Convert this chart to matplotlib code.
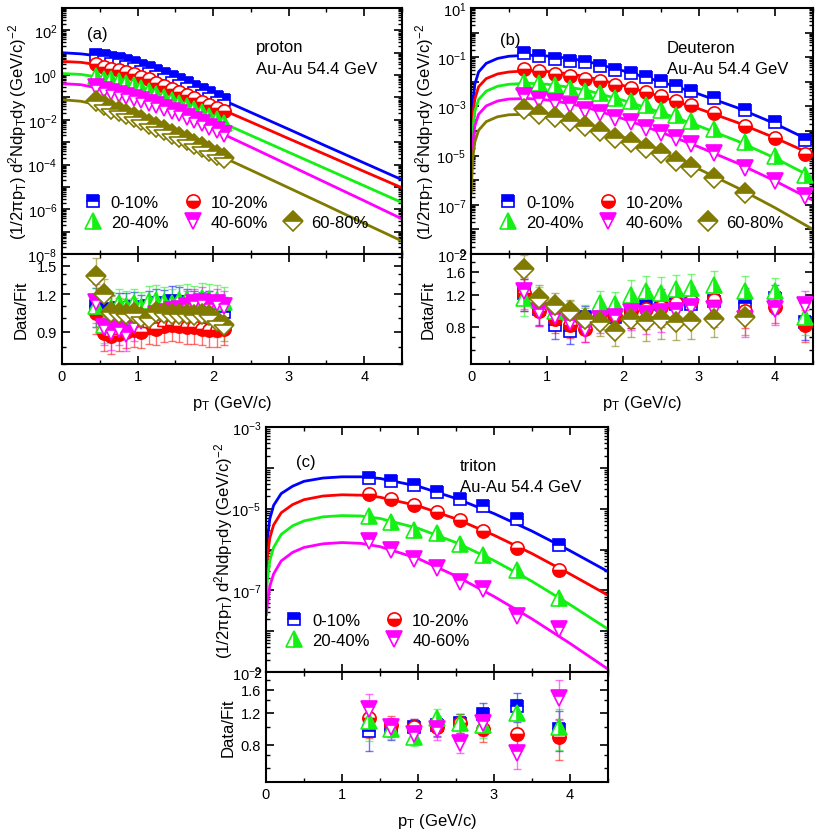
import numpy as np
import matplotlib
matplotlib.use("Agg")
import matplotlib.pyplot as plt
from matplotlib.ticker import LogLocator, FixedLocator, FuncFormatter, NullFormatter, MultipleLocator, FixedFormatter
from matplotlib.lines import Line2D

plt.rcParams['font.family'] = ['Liberation Sans', 'DejaVu Sans']
plt.rcParams['mathtext.fontset'] = 'custom'
plt.rcParams['mathtext.rm'] = 'Liberation Sans'
plt.rcParams['mathtext.it'] = 'Liberation Sans:italic'
plt.rcParams['mathtext.default'] = 'regular'

# ---------------- data ----------------
centralities = ['0-10%', '10-20%', '20-40%', '40-60%', '60-80%']
colors = ['#0000ff', '#ff0000', '#14f014', '#ff00ff', '#807a00']
markers = ['s', 'o', '^', 'v', 'D']
fills = ['top', 'bottom', 'right', 'top', 'top']
msizes = [9, 9.5, 11, 11, 10]

# (a) proton
pt_a = [0.45, 0.55, 0.65, 0.75, 0.85, 0.95, 1.05, 1.15, 1.25, 1.35,
        1.45, 1.55, 1.65, 1.75, 1.85, 1.95, 2.05, 2.15]
spec_a = [
    [8.15, 6.97, 5.85, 5.05, 4.12, 3.40, 2.59, 1.98, 1.49, 1.10, 0.836, 0.604, 0.430, 0.303, 0.215, 0.156, 0.108, 0.0752],
    [3.10, 2.31, 1.91, 1.64, 1.37, 1.13, 0.859, 0.643, 0.461, 0.341, 0.25, 0.178, 0.126, 0.0908, 0.0646, 0.0458, 0.0328, 0.0237],
    [0.927, 0.689, 0.650, 0.561, 0.438, 0.354, 0.262, 0.201, 0.148, 0.106, 0.0771, 0.0574, 0.0415, 0.0293, 0.0216, 0.0153, 0.0109, 0.00755],
    [0.307, 0.213, 0.171, 0.146, 0.111, 0.0951, 0.0757, 0.0581, 0.045, 0.0344, 0.0261, 0.0192, 0.0139, 0.00998, 0.0071, 0.00486, 0.00347, 0.00237],
    [0.067, 0.0471, 0.0318, 0.0244, 0.018, 0.0135, 0.00953, 0.00668, 0.00497, 0.00348, 0.00244, 0.00172, 0.00121, 8.4e-4, 5.94e-4, 4.13e-4, 2.77e-4, 1.88e-4],
]
ratio_a = [
    [1.10, 1.07, 1.06, 1.08, 1.08, 1.09, 1.07, 1.10, 1.12, 1.11, 1.14, 1.13, 1.12, 1.10, 1.09, 1.10, 1.07, 1.05],
    [1.04, 0.89, 0.87, 0.88, 0.90, 0.91, 0.90, 0.93, 0.92, 0.94, 0.95, 0.94, 0.93, 0.93, 0.92, 0.91, 0.91, 0.92],
    [1.10, 0.95, 1.08, 1.12, 1.10, 1.12, 1.09, 1.14, 1.15, 1.13, 1.12, 1.15, 1.16, 1.14, 1.17, 1.16, 1.15, 1.13],
    [1.13, 0.93, 0.90, 0.92, 0.88, 0.95, 0.98, 1.00, 1.03, 1.05, 1.06, 1.07, 1.10, 1.12, 1.13, 1.10, 1.12, 1.10],
    [1.38, 1.20, 1.05, 1.04, 1.03, 1.04, 1.01, 1.00, 1.05, 1.04, 1.03, 1.03, 1.03, 1.02, 1.03, 1.02, 0.98, 0.95],
]
rerr_a = [0.15, 0.13, 0.13, 0.12, 0.12, 0.12, 0.12, 0.12, 0.12, 0.12, 0.12, 0.12, 0.12, 0.12, 0.12, 0.12, 0.12, 0.12]
fitpt_a = [0, 0.25, 0.5, 0.75, 1.0, 1.5, 2.0, 2.5, 3.0, 3.5, 4.0, 4.5]
fitlog_a = [
    [1.0, 0.95, 0.85, 0.67, 0.45, -0.2, -0.92, -1.67, -2.42, -3.18, -3.93, -4.68],
    [0.61, 0.57, 0.45, 0.27, 0.05, -0.65, -1.37, -2.1, -2.84, -3.57, -4.31, -5.04],
    [0.07, 0.03, -0.1, -0.3, -0.55, -1.23, -1.95, -2.7, -3.45, -4.2, -4.95, -5.7],
    [-0.38, -0.43, -0.6, -0.8, -1.05, -1.67, -2.43, -3.22, -4.02, -4.82, -5.62, -6.43],
    [-1.1, -1.17, -1.35, -1.63, -1.95, -2.7, -3.47, -4.25, -5.04, -5.83, -6.63, -7.42],
]

# (b) deuteron
pt_b = [0.7, 0.9, 1.1, 1.3, 1.5, 1.7, 1.9, 2.1, 2.3, 2.5, 2.7, 2.9, 3.2, 3.6, 4.0, 4.4]
spec_b = [
    [0.145, 0.115, 0.085, 0.068, 0.063, 0.045, 0.030, 0.0224, 0.0162, 0.0107, 0.0068, 0.0043, 0.0021, 7.1e-4, 2.3e-4, 4.3e-5],
    [0.034, 0.0263, 0.0214, 0.0170, 0.0129, 0.011, 0.0076, 0.0056, 0.0038, 0.00257, 0.0017, 0.0011, 5.4e-4, 1.6e-4, 5.4e-5, 1.2e-5],
    [9.8e-3, 9.3e-3, 7.1e-3, 5.6e-3, 4.3e-3, 3.4e-3, 2.2e-3, 1.7e-3, 1.1e-3, 6.9e-4, 4.4e-4, 2.6e-4, 1.23e-4, 3.6e-5, 1.0e-5, 1.6e-6],
    [2.6e-3, 1.86e-3, 1.48e-3, 1.1e-3, 7.4e-4, 5.4e-4, 3.5e-4, 2.3e-4, 1.38e-4, 8.5e-5, 5.0e-5, 3.0e-5, 1.23e-5, 3.1e-6, 9.3e-7, 2.3e-7],
    [7.9e-4, 4.9e-4, 3.6e-4, 2.5e-4, 1.6e-4, 9.8e-5, 5.4e-5, 3.7e-5, 2.1e-5, 1.23e-5, 6.3e-6, 3.3e-6, 1.23e-6, 3.1e-7],
]
ratio_b = [
    [1.22, 1.0, 0.82, 0.76, 0.9, 0.92, 0.9, 0.98, 1.07, 1.06, 1.06, 1.06, 1.1, 1.08, 1.15, 0.85],
    [1.22, 0.98, 0.88, 0.82, 0.78, 0.93, 0.92, 0.98, 1.0, 1.02, 1.08, 1.1, 1.12, 0.98, 1.02, 0.82],
    [1.15, 1.12, 0.98, 0.96, 0.92, 1.08, 1.06, 1.2, 1.25, 1.23, 1.28, 1.3, 1.35, 1.26, 1.25, 0.9],
    [1.25, 0.98, 0.92, 0.85, 0.78, 0.88, 0.9, 0.96, 0.94, 0.96, 0.98, 1.02, 1.0, 0.88, 1.0, 1.05],
    [1.65, 1.15, 1.05, 0.98, 0.88, 0.85, 0.76, 0.88, 0.86, 0.88, 0.85, 0.86, 0.88, 0.9],
]
rerr_b = [0.2, 0.18, 0.16, 0.15, 0.15, 0.16, 0.17, 0.2, 0.22, 0.22, 0.2, 0.2, 0.2, 0.2, 0.18, 0.2]
fitpt_b = [0.004, 0.02, 0.05, 0.1, 0.2, 0.35, 0.5, 0.75, 1.0, 1.25, 1.5, 2.0, 2.5, 3.0, 3.5, 4.0, 4.5]
fitlog_b = [
    [-4.4, -2.9, -2.1, -1.6, -1.25, -1.05, -0.96, -0.92, -0.95, -1.03, -1.15, -1.55, -2.0, -2.5, -3.05, -3.7, -4.45],
    [-5.0, -3.5, -2.7, -2.2, -1.87, -1.68, -1.6, -1.55, -1.58, -1.66, -1.78, -2.15, -2.6, -3.1, -3.65, -4.28, -4.97],
    [-5.5, -4.0, -3.2, -2.72, -2.38, -2.18, -2.1, -2.06, -2.1, -2.2, -2.33, -2.75, -3.25, -3.8, -4.4, -5.1, -5.9],
    [-6.0, -4.6, -3.8, -3.32, -2.98, -2.78, -2.7, -2.68, -2.74, -2.86, -3.02, -3.5, -4.05, -4.65, -5.3, -6.03, -6.82],
    [-6.5, -5.2, -4.45, -3.97, -3.62, -3.42, -3.34, -3.32, -3.4, -3.55, -3.73, -4.25, -4.85, -5.55, -6.3, -7.12, -8.0],
]

# (c) triton
pt_c = [1.35, 1.65, 1.95, 2.25, 2.55, 2.85, 3.3, 3.85]
spec_c = [
    [5.52e-5, 4.68e-5, 3.71e-5, 2.56e-5, 1.71e-5, 1.16e-5, 5.45e-6, 1.27e-6],
    [2.34e-5, 1.68e-5, 1.23e-5, 8.1e-6, 5.4e-6, 2.86e-6, 1.11e-6, 3.1e-7],
    [6.75e-6, 4.78e-6, 3.08e-6, 2.48e-6, 1.4e-6, 7.4e-7, 3.18e-7, 6.6e-8],
    [1.64e-6, 9.6e-7, 5.93e-7, 3.56e-7, 1.64e-7, 1.05e-7, 2.38e-8, 1.1e-8],
]
ratio_c = [
    [0.95, 0.97, 1.0, 1.02, 1.05, 1.18, 1.3, 0.98],
    [1.12, 1.02, 1.0, 1.0, 1.05, 0.97, 0.92, 0.88],
    [1.08, 0.98, 0.88, 1.12, 1.05, 1.02, 1.2, 1.0],
    [1.25, 1.0, 0.92, 0.97, 0.82, 1.05, 0.72, 1.45],
]
rerr_c = [0.22, 0.12, 0.1, 0.12, 0.12, 0.15, 0.18, 0.25]
fitpt_c = [0.004, 0.02, 0.05, 0.1, 0.2, 0.35, 0.5, 0.75, 1.0, 1.25, 1.5, 2.0, 2.5, 3.0, 3.5, 4.0, 4.5]
fitlog_c = [
    [-6.2, -5.7, -5.25, -4.92, -4.63, -4.45, -4.33, -4.25, -4.22, -4.22, -4.26, -4.45, -4.75, -5.12, -5.55, -6.03, -6.54],
    [-6.6, -6.15, -5.72, -5.4, -5.1, -4.9, -4.78, -4.69, -4.66, -4.67, -4.72, -4.93, -5.25, -5.65, -6.1, -6.6, -7.12],
    [-7.1, -6.7, -6.27, -5.95, -5.63, -5.42, -5.3, -5.2, -5.17, -5.18, -5.24, -5.48, -5.83, -6.27, -6.78, -7.35, -7.95],
    [-7.6, -7.3, -6.9, -6.6, -6.28, -6.07, -5.95, -5.86, -5.83, -5.85, -5.93, -6.22, -6.65, -7.15, -7.7, -8.3, -8.93],
]

# ---------------- figure ----------------
W, H = 817, 837
fig = plt.figure(figsize=(W / 100, H / 100), dpi=100)


def rect(l, t, r, b):
    return [l / W, 1 - b / H, (r - l) / W, (b - t) / H]


def style_axes(ax):
    ax.tick_params(which='both', direction='in', top=True, right=True, labelsize=10.5, width=1.2)
    ax.tick_params(which='major', length=6)
    ax.tick_params(which='minor', length=3, width=1)
    for s in ax.spines.values():
        s.set_linewidth(1.5)


def decade_fmt(parity):
    def f(v, p):
        e = int(round(np.log10(v)))
        return '$10^{%d}$' % e if e % 2 == parity else ''
    return FuncFormatter(f)


def panel(top_rect, rat_rect, pt, spec, ratio, rerr, fitpt, fitlog, ylim, parity,
          rlim, rticks, rminor, label, name, text_xy, legend_xy, spec_err, ylab_x):
    n = len(spec)
    axt = fig.add_axes(rect(*top_rect))
    axr = fig.add_axes(rect(*rat_rect))
    handles = []
    for i in range(n):
        c = colors[i]
        axt.plot(fitpt, 10 ** np.array(fitlog[i]), color=c, lw=2, zorder=2)
        m = len(spec[i])
        y = np.array(spec[i])
        axt.errorbar(pt[:m], y, yerr=y * spec_err, fmt='none', ecolor=c, alpha=0.5,
                     elinewidth=1, capsize=0, zorder=3)
        h, = axt.plot(pt[:m], y, ls='none', marker=markers[i], fillstyle=fills[i],
                      ms=msizes[i], mfc=c, mfcalt='white', mec=c, mew=1.2, zorder=4)
        handles.append(h)
        r = np.array(ratio[i])
        axr.errorbar(pt[:m], r, yerr=np.array(rerr[:m]) * r, fmt='none', ecolor=c, alpha=0.55,
                     elinewidth=1, capsize=3, zorder=3)
        axr.plot(pt[:m], r, ls='none', marker=markers[i], fillstyle=fills[i],
                 ms=msizes[i], mfc=c, mfcalt='white', mec=c, mew=1.2, zorder=4)

    for ax in (axt, axr):
        ax.set_xlim(0, 4.5)
        ax.xaxis.set_major_locator(MultipleLocator(1))
        ax.xaxis.set_minor_locator(MultipleLocator(0.5))
        style_axes(ax)
    axt.set_yscale('log')
    axt.set_ylim(*ylim)
    axt.yaxis.set_major_locator(LogLocator(base=10, numticks=30))
    axt.yaxis.set_minor_locator(LogLocator(base=10, subs=np.arange(2, 10), numticks=30))
    axt.yaxis.set_major_formatter(decade_fmt(parity))
    axt.yaxis.set_minor_formatter(NullFormatter())
    axt.tick_params(labelbottom=False)

    axr.set_yscale('log')
    axr.set_ylim(*rlim)
    axr.yaxis.set_major_locator(FixedLocator(rticks))
    axr.yaxis.set_major_formatter(FixedFormatter(['%g' % t for t in rticks]))
    axr.yaxis.set_minor_locator(FixedLocator(rminor))
    axr.yaxis.set_minor_formatter(NullFormatter())
    axr.set_xticks([0, 1, 2, 3, 4])
    axr.set_xticklabels(['0', '1', '2', '3', '4'])

    axt.set_ylabel(r'(1/2$\pi$p$_T$) d$^2$Ndp$_T$dy (GeV/c)$^{-2}$', fontsize=12)
    axt.yaxis.set_label_coords(ylab_x, 0.5)
    axr.set_ylabel('Data/Fit', fontsize=12)
    axr.yaxis.set_label_coords(ylab_x, 0.5)
    axr.set_xlabel(r'p$_T$ (GeV/c)', fontsize=12)
    axr.xaxis.set_label_coords(0.5, -0.26)

    axt.text(text_xy[0][0], text_xy[0][1], label, transform=axt.transAxes, fontsize=12, va='center')
    axt.text(text_xy[1][0], text_xy[1][1], name, transform=axt.transAxes, fontsize=12,
             va='center', linespacing=1.55)

    if n == 5:
        blank = Line2D([], [], ls='none')
        hl = [handles[0], handles[2], handles[1], handles[3], blank, handles[4]]
        ll = [centralities[0], centralities[2], centralities[1], centralities[3], '', centralities[4]]
        ncol = 3
    else:
        hl = [handles[0], handles[2], handles[1], handles[3]]
        ll = [centralities[0], centralities[2], centralities[1], centralities[3]]
        ncol = 2
    axt.legend(hl, ll, ncol=ncol, loc='upper left', bbox_to_anchor=legend_xy, frameon=False,
               fontsize=12, handlelength=1.0, handletextpad=0.6, columnspacing=0.95,
               labelspacing=0.3, borderpad=0.2)
    return axt, axr


panel((62, 9, 402, 255), (62, 255, 402, 365), pt_a, spec_a, ratio_a, rerr_a,
      fitpt_a, fitlog_a, (1e-8, 1e3), 0, (0.7, 1.64), [0.9, 1.2, 1.5],
      [0.7, 0.8, 1.0, 1.1, 1.3, 1.4, 1.6], '(a)', 'proton\nAu-Au 54.4 GeV',
      ((0.075, 0.895), (0.571, 0.798)), (0.031, 0.288), 0.0, -0.098)

panel((471, 9, 813, 255), (471, 255, 813, 365), pt_b, spec_b, ratio_b, rerr_b,
      fitpt_b, fitlog_b, (1e-9, 1e1), 1, (0.5, 2.0), [0.8, 1.2, 1.6, 2.0],
      [0.6, 0.7, 1.0, 1.4, 1.8], '(b)', 'Deuteron\nAu-Au 54.4 GeV',
      ((0.085, 0.87), (0.573, 0.797)), (0.049, 0.288), 0.08, -0.102)

panel((266, 428, 608, 673), (266, 673, 608, 783), pt_c, spec_c, ratio_c, rerr_c,
      fitpt_c, fitlog_c, (1e-9, 1e-3), 1, (0.5, 2.0), [0.8, 1.2, 1.6, 2.0],
      [0.6, 0.7, 1.0, 1.4, 1.8], '(c)', 'triton\nAu-Au 54.4 GeV',
      ((0.088, 0.86), (0.567, 0.8)), (0.023, 0.288), 0.08, -0.09)

fig.savefig('out.png', dpi=100)
